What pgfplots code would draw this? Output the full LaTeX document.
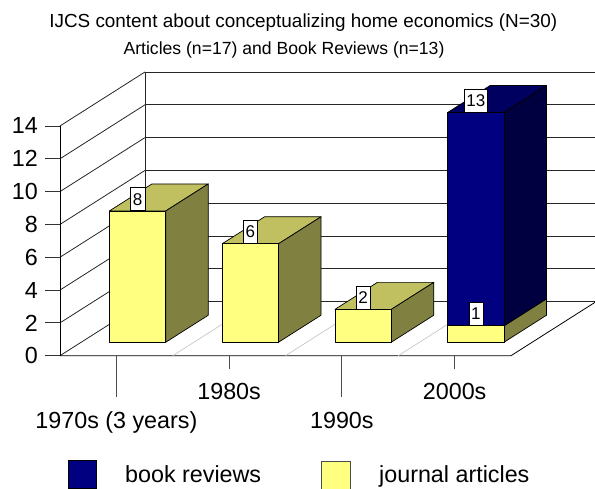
\documentclass[border=0pt]{standalone}
\usepackage{fontspec}
\setmainfont{Liberation Sans}
\usepackage{pgfplots}
\pgfplotsset{compat=1.18}
\definecolor{yfront}{HTML}{FFFF80}
\definecolor{yside}{HTML}{808040}
\definecolor{ytop}{HTML}{C0C060}
\definecolor{nfront}{HTML}{000080}
\definecolor{nside}{HTML}{000040}
\definecolor{ntop}{HTML}{000060}
\newcommand{\ticklab}{\fontsize{23.3}{27}\selectfont}
\newcommand{\vallab}{\fontsize{17}{19}\selectfont}
% cuboid: x0, x1, z0 (bottom value), z1 (top value), front, side, top colours
\newcommand{\cuboid}[7]{%
  \addplot3[fill=#7,draw=black,line width=0.7pt,line join=round,mark=none] coordinates {(#1,0.25,#4) (#2,0.25,#4) (#2,0.75,#4) (#1,0.75,#4)} -- cycle;
  \addplot3[fill=#6,draw=black,line width=0.7pt,line join=round,mark=none] coordinates {(#2,0.25,#3) (#2,0.75,#3) (#2,0.75,#4) (#2,0.25,#4)} -- cycle;
  \addplot3[fill=#5,draw=black,line width=0.7pt,line join=round,mark=none] coordinates {(#1,0.25,#3) (#2,0.25,#3) (#2,0.25,#4) (#1,0.25,#4)} -- cycle;
}
\begin{document}
\begin{tikzpicture}
\begin{axis}[
  x={(112.75pt,0pt)}, y={(85pt,54pt)}, z={(0pt,16.41pt)},
  xmin=0, xmax=4, ymin=0, ymax=1, zmin=0, zmax=14,
  hide axis, clip=false,
]
\coordinate (O) at (axis cs:0,0,0);
% back wall gridlines and left wall
\pgfplotsinvokeforeach{0,2,...,14}{
  \draw[black!85,line width=0.8pt] (axis cs:0,1,#1) -- (axis cs:4,1,#1);
  \draw[black!85,line width=0.8pt] (axis cs:0,0,#1) -- (axis cs:0,1,#1);
  \draw[black!80,line width=0.8pt] (axis cs:0,0,#1) -- ++(-15pt,0pt);
  \node[anchor=east,inner sep=0pt,xshift=-22pt] at (axis cs:0,0,#1) {\ticklab #1};
}
\draw[black!85,line width=0.8pt] (axis cs:0,1,0) -- (axis cs:0,1,14);
\draw[black,line width=0.8pt] (axis cs:0,0,0) -- (axis cs:0,0,14);
% floor
\draw[black,line width=0.8pt] (axis cs:0,0,0) -- (axis cs:4,0,0) -- (axis cs:4,1,0);
\pgfplotsinvokeforeach{1,2,3}{
  \draw[black!22,line width=0.7pt] (axis cs:#1,0,0) -- (axis cs:#1,1,0);
}
% x ticks and labels
\draw[black!70,line width=0.8pt] (axis cs:0.5,0,0) -- ++(0pt,-41pt);
\draw[black!70,line width=0.8pt] (axis cs:1.5,0,0) -- ++(0pt,-13pt);
\draw[black!70,line width=0.8pt] (axis cs:2.5,0,0) -- ++(0pt,-41pt);
\draw[black!70,line width=0.8pt] (axis cs:3.5,0,0) -- ++(0pt,-13pt);
\node[anchor=base,inner sep=0pt,yshift=-73pt] at (axis cs:0.5,0,0) {\ticklab 1970s (3 years)};
\node[anchor=base,inner sep=0pt,yshift=-44pt] at (axis cs:1.5,0,0) {\ticklab 1980s};
\node[anchor=base,inner sep=0pt,yshift=-73pt] at (axis cs:2.5,0,0) {\ticklab 1990s};
\node[anchor=base,inner sep=0pt,yshift=-44pt] at (axis cs:3.5,0,0) {\ticklab 2000s};
% bars: journal articles 8, 6, 2, 1; book reviews 0, 0, 0, 13 (stacked)
\cuboid{0.25}{0.75}{0}{8}{yfront}{yside}{ytop}
\cuboid{1.25}{1.75}{0}{6}{yfront}{yside}{ytop}
\cuboid{2.25}{2.75}{0}{2}{yfront}{yside}{ytop}
\cuboid{3.25}{3.75}{0}{1}{yfront}{yside}{ytop}
\cuboid{3.25}{3.75}{1}{14}{nfront}{nside}{ntop}
% value labels
\tikzset{vbox/.style={anchor=south,fill=white,draw=black,line width=0.5pt,inner xsep=2.4pt,inner ysep=0pt,minimum height=23pt}}
\node[vbox] at (axis cs:0.5,0.25,8) {\vallab 8};
\node[vbox] at (axis cs:1.5,0.25,6) {\vallab 6};
\node[vbox] at (axis cs:2.5,0.25,2) {\vallab 2};
\node[vbox] at (axis cs:3.5,0.25,1) {\vallab 1};
\node[vbox] at (axis cs:3.5,0.25,14) {\vallab 13};
\end{axis}
% titles
\node[anchor=base,inner sep=0pt] at ([shift={(243.3pt,327.7pt)}]O) {\fontsize{18.9}{22}\selectfont IJCS content about conceptualizing home economics (N=30)};
\node[anchor=base,inner sep=0pt] at ([shift={(224pt,301pt)}]O) {\fontsize{17.6}{21}\selectfont Articles (n=17) and Book Reviews (n=13)};
% legend
\fill[nfront,draw=black,line width=0.6pt] ([shift={(8.3pt,-104.3pt)}]O) rectangle ++(28.4pt,-28.4pt);
\node[anchor=base west,inner sep=0pt] at ([shift={(65pt,-127pt)}]O) {\ticklab book reviews};
\fill[yfront,draw=black!70,line width=0.6pt] ([shift={(261.7pt,-105.3pt)}]O) rectangle ++(29pt,-28.4pt);
\node[anchor=base west,inner sep=0pt] at ([shift={(319pt,-127pt)}]O) {\ticklab journal articles};
\pgfresetboundingbox
\path ([shift={(-60pt,-132.3pt)}]O) rectangle ([shift={(535pt,355.7pt)}]O);
\end{tikzpicture}
\end{document}
